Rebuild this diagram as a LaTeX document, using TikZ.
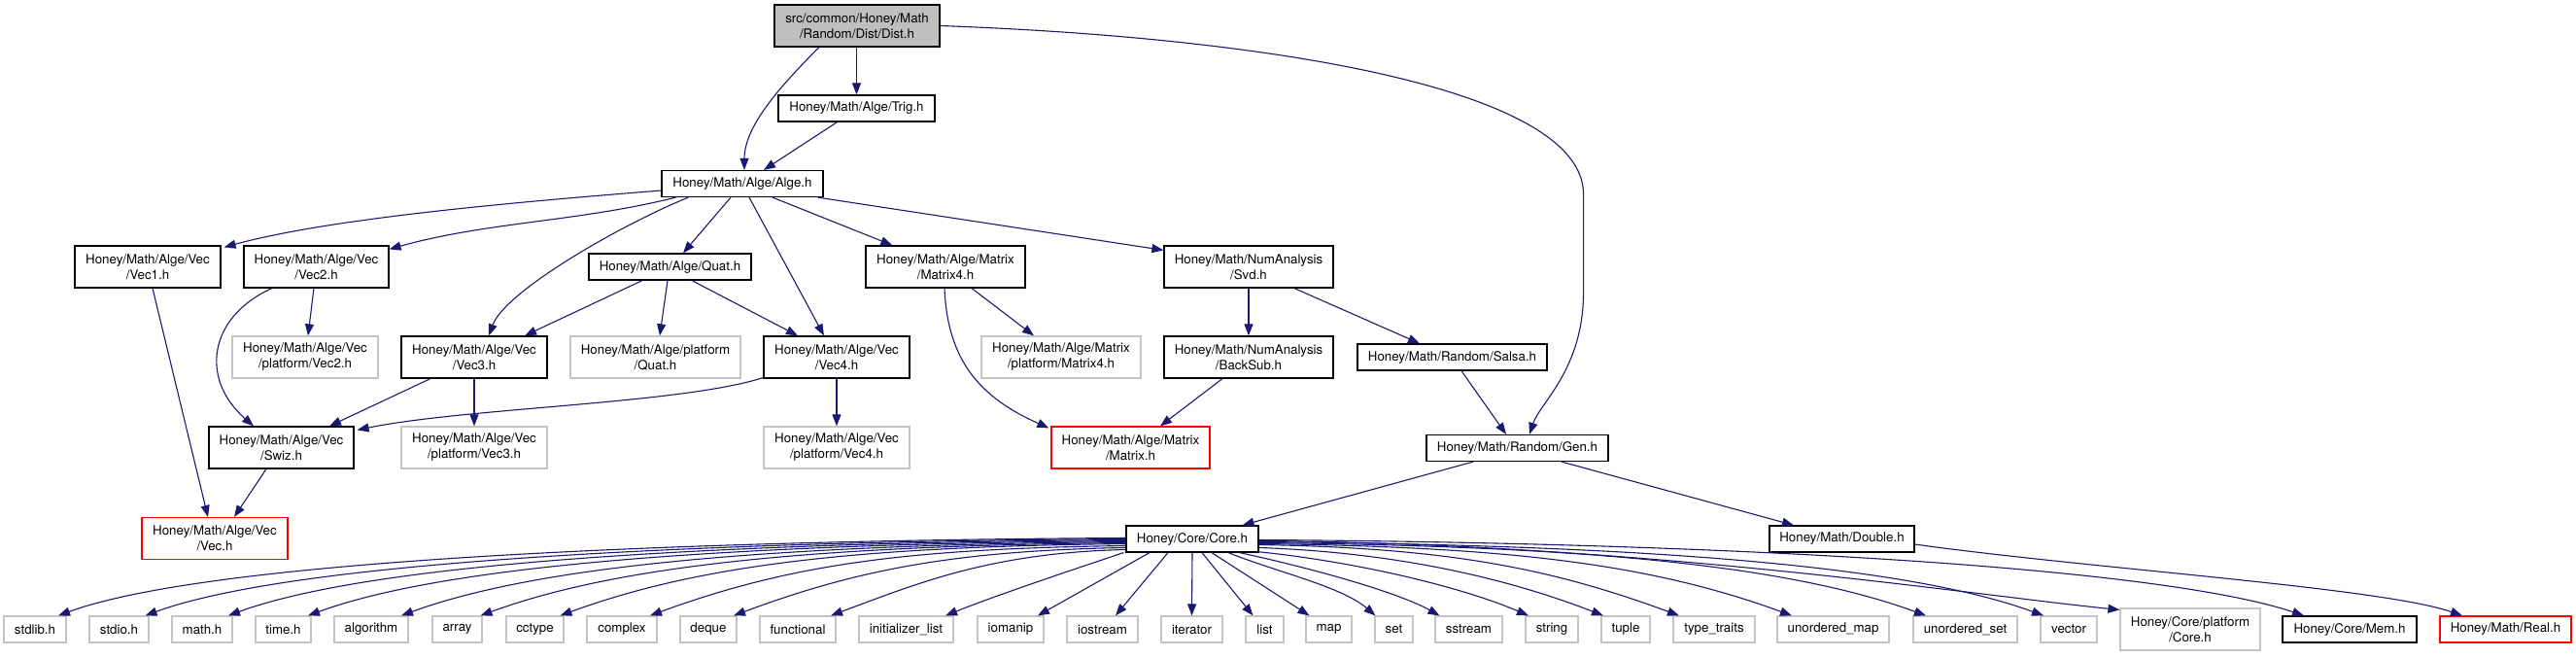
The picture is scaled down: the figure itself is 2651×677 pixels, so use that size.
\documentclass[tikz,border=0pt]{standalone}
\usepackage{fontspec}
\setmainfont{TeX Gyre Heros}
\usetikzlibrary{arrows.meta}
\definecolor{edgeblue}{HTML}{191970}
\definecolor{grayline}{HTML}{C4C4C4}
\definecolor{rootfill}{HTML}{BFBFBF}
\begin{document}
\begin{tikzpicture}[x=1pt,y=-1pt,
  box/.style={rectangle, draw=black, line width=1.2pt, inner sep=0pt, align=center, font=\fontsize{13.3}{16}\selectfont, text=black},
  doc/.style={box},
  ext/.style={box, draw=grayline},
  trunc/.style={box, draw=red},
  root/.style={box, fill=rootfill},
  one/.style={minimum height=27pt},
  two/.style={minimum height=43pt},
  dep/.style={draw=edgeblue, line width=1.1pt, -{Triangle[length=12pt,width=9pt]}},
]
\useasboundingbox (0,0) rectangle (2651,677);

% upper nodes
\node[root,two,minimum width=170pt] (dist) at (882,26.5) {src/common/Honey/Math\\/Random/Dist/Dist.h};
\node[doc,one,minimum width=161pt] (trig) at (881.5,111.5) {Honey/Math/Alge/Trig.h};
\node[doc,one,minimum width=166pt] (alge) at (764,189) {Honey/Math/Alge/Alge.h};
\node[doc,two,minimum width=150pt] (vec1) at (152,274.5) {Honey/Math/Alge/Vec\\/Vec1.h};
\node[doc,two,minimum width=149pt] (vec2) at (325.5,274.5) {Honey/Math/Alge/Vec\\/Vec2.h};
\node[doc,one,minimum width=167pt] (quat) at (689.5,274.5) {Honey/Math/Alge/Quat.h};
\node[doc,two,minimum width=164pt] (mat4) at (973,274.5) {Honey/Math/Alge/Matrix\\/Matrix4.h};
\node[doc,two,minimum width=174pt] (svd) at (1285,274.5) {Honey/Math/NumAnalysis\\/Svd.h};
\node[ext,two,minimum width=150pt] (pvec2) at (314,367.5) {Honey/Math/Alge/Vec\\/platform/Vec2.h};
\node[doc,two,minimum width=150pt] (vec3) at (488,367.5) {Honey/Math/Alge/Vec\\/Vec3.h};
\node[ext,two,minimum width=175pt] (pquat) at (674.5,367.5) {Honey/Math/Alge/platform\\/Quat.h};
\node[doc,two,minimum width=150pt] (vec4) at (861,367.5) {Honey/Math/Alge/Vec\\/Vec4.h};
\node[ext,two,minimum width=164pt] (pmat4) at (1092,367.5) {Honey/Math/Alge/Matrix\\/platform/Matrix4.h};
\node[doc,two,minimum width=174pt] (backsub) at (1285,367.5) {Honey/Math/NumAnalysis\\/BackSub.h};
\node[doc,one,minimum width=195pt] (salsa) at (1494.5,367.5) {Honey/Math/Random/Salsa.h};
\node[doc,two,minimum width=149pt] (swiz) at (289.5,460.5) {Honey/Math/Alge/Vec\\/Swiz.h};
\node[ext,two,minimum width=150pt] (pvec3) at (488,460.5) {Honey/Math/Alge/Vec\\/platform/Vec3.h};
\node[ext,two,minimum width=150pt] (pvec4) at (861,460.5) {Honey/Math/Alge/Vec\\/platform/Vec4.h};
\node[trunc,two,minimum width=163pt] (matrix) at (1163.5,460.5) {Honey/Math/Alge/Matrix\\/Matrix.h};
\node[doc,one,minimum width=187pt] (gen) at (1561.5,461) {Honey/Math/Random/Gen.h};
\node[trunc,two,minimum width=150pt] (vec) at (221,554) {Honey/Math/Alge/Vec\\/Vec.h};
\node[doc,one,minimum width=136pt] (core) at (1227,554.5) {Honey/Core/Core.h};
\node[doc,one,minimum width=149pt] (dbl) at (1895.5,554.5) {Honey/Math/Double.h};

% bottom row
\node[ext,one,minimum width=64pt] (stdlib) at (36,647.5) {stdlib.h};
\node[ext,one,minimum width=61pt] (stdio) at (122.5,647.5) {stdio.h};
\node[ext,one,minimum width=62pt] (mathh) at (208,647.5) {math.h};
\node[ext,one,minimum width=57pt] (timeh) at (291.5,647.5) {time.h};
\node[ext,one,minimum width=76pt] (algorithm) at (382,647.5) {algorithm};
\node[ext,one,minimum width=51pt] (array) at (470.5,647.5) {array};
\node[ext,one,minimum width=59pt] (cctype) at (550.5,647.5) {cctype};
\node[ext,one,minimum width=72pt] (complex) at (640,647.5) {complex};
\node[ext,one,minimum width=58pt] (deque) at (729,647.5) {deque};
\node[ext,one,minimum width=78pt] (functional) at (821,647.5) {functional};
\node[ext,one,minimum width=97pt] (initlist) at (932.5,647.5) {initializer\_list};
\node[ext,one,minimum width=68pt] (iomanip) at (1040,647.5) {iomanip};
\node[ext,one,minimum width=73pt] (iostream) at (1134.5,647.5) {iostream};
\node[ext,one,minimum width=63pt] (iterator) at (1226.5,647.5) {iterator};
\node[ext,one,minimum width=39pt] (listh) at (1301.5,647.5) {list};
\node[ext,one,minimum width=47pt] (maph) at (1367.5,647.5) {map};
\node[ext,one,minimum width=39pt] (seth) at (1434.5,647.5) {set};
\node[ext,one,minimum width=69pt] (sstream) at (1511.5,647.5) {sstream};
\node[ext,one,minimum width=54pt] (stringh) at (1597,647.5) {string};
\node[ext,one,minimum width=50pt] (tuple) at (1673,647.5) {tuple};
\node[ext,one,minimum width=84pt] (typetraits) at (1764,647.5) {type\_traits};
\node[ext,one,minimum width=115pt] (umap) at (1886.5,647.5) {unordered\_map};
\node[ext,one,minimum width=107pt] (uset) at (2022.5,647.5) {unordered\_set};
\node[ext,one,minimum width=58pt] (vectorh) at (2129,647.5) {vector};
\node[ext,two,minimum width=144pt] (pcore) at (2254,647.5) {Honey/Core/platform\\/Core.h};
\node[doc,one,minimum width=138pt] (mem) at (2418,647.5) {Honey/Core/Mem.h};
\node[trunc,one,minimum width=135pt] (real) at (2578.5,647.5) {Honey/Math/Real.h};

% upper edges
\draw[dep] ([xshift=-39pt]dist.south) .. controls +(-40,40) and +(0,-45) .. ([xshift=2pt]alge.north);
\draw[dep] (trig.north |- dist.south) -- (trig.north);
\draw[dep] ([xshift=-20pt]trig.south) -- ([xshift=22pt]alge.north);
\draw[dep] (dist.east) .. controls +(333,12) and +(0,-110) .. ++(662,173.5) -- ++(0,100) .. controls +(0,80) and +(11,-33) .. ([xshift=12.5pt]gen.north);
\draw[dep] ([yshift=-7pt]alge.west) .. controls +(-150,12) and +(110,-30) .. ([xshift=3pt,yshift=-2pt]vec1.north east);
\draw[dep] ([xshift=15pt]alge.south west) .. controls +(-100,25) and +(100,-28) .. ([yshift=-4pt]vec2.north east);
\draw[dep] ([xshift=28pt]alge.south west) .. controls +(-69,28) and +(17,-46) .. ([xshift=15pt]vec3.north);
\draw[dep] ([xshift=-12pt]alge.south) -- ([xshift=13.5pt]quat.north);
\draw[dep] ([xshift=7pt]alge.south) -- ([xshift=-13pt]vec4.north);
\draw[dep] ([xshift=31pt]alge.south) -- ([xshift=28pt]mat4.north west);
\draw[dep] ([xshift=-6pt]alge.south east) -- ([yshift=-5pt]svd.north west);
\draw[dep] ([xshift=5pt]vec1.south) -- ([xshift=-7pt]vec.north);
\draw[dep] ([xshift=-45.5pt]vec2.south) .. controls +(-65,29) and +(-56,-49) .. ([xshift=-28.5pt]swiz.north);
\draw[dep] ([xshift=-2.5pt]vec2.south) -- ([xshift=3pt]pvec2.north);
\draw[dep] ([xshift=-28.5pt]quat.south) -- ([xshift=52pt]vec3.north);
\draw[dep] ([xshift=-2.5pt]quat.south) -- ([xshift=4.5pt]pquat.north);
\draw[dep] ([xshift=22.5pt]quat.south) -- ([xshift=-40pt]vec4.north);
\draw[dep] ([xshift=-45pt]vec3.south) -- ([xshift=49.5pt]swiz.north);
\draw[dep] (vec3.south) -- (pvec3.north);
\draw[dep] ([yshift=1pt]vec4.south west) .. controls +(-85,27) and +(113,-23) .. ([xshift=3pt,yshift=-4pt]swiz.north east);
\draw[dep] (vec4.south) -- (pvec4.north);
\draw[dep] ([xshift=-15.5pt]swiz.south) -- ([xshift=20pt]vec.north);
\draw[dep] ([xshift=-1pt]mat4.south) .. controls +(3,75) and +(-70,-31) .. ([xshift=-2pt,yshift=-2pt]matrix.north west);
\draw[dep] ([xshift=27pt]mat4.south) -- ([xshift=-28pt]pmat4.north);
\draw[dep] (svd.south) -- (backsub.north);
\draw[dep] ([xshift=47pt]svd.south) -- ([xshift=-33.5pt]salsa.north);
\draw[dep] ([xshift=-27pt]backsub.south) -- ([xshift=30.5pt]matrix.north);
\draw[dep] ([xshift=9.5pt]salsa.south) -- ([xshift=-11.5pt]gen.north);
\draw[dep] ([xshift=-45.5pt]gen.south) -- ([xshift=51.5pt]core.north);
\draw[dep] ([xshift=45.5pt]gen.south) -- ([xshift=-49.5pt]dbl.north);
\draw[dep] ([yshift=-5.5pt]dbl.east) .. controls +(179,25) and +(-84,-29) .. ([xshift=-44.5pt]real.north);

% Core.h fan
\draw[dep] ([yshift=1pt]core.west) .. controls +(-495,3) and +(150,-55) .. ([xshift=24pt]stdlib.north);
\draw[dep] (core.west) .. controls +(-454,3) and +(150,-55) .. ([xshift=27pt]stdio.north);
\draw[dep] ([yshift=-1pt]core.west) .. controls +(-416,3) and +(150,-55) .. ([xshift=27pt]mathh.north);
\draw[dep] ([yshift=-2pt]core.west) .. controls +(-379,3) and +(150,-55) .. ([xshift=25.5pt]timeh.north);
\draw[dep] ([yshift=-3pt]core.west) .. controls +(-336,3) and +(150,-55) .. ([xshift=31pt]algorithm.north);
\draw[dep] ([yshift=-4pt]core.west) .. controls +(-299,3) and +(150,-55) .. ([xshift=24pt]array.north);
\draw[dep] ([yshift=-5pt]core.west) .. controls +(-262,3) and +(150,-55) .. ([xshift=26pt]cctype.north);
\draw[dep] ([yshift=-7pt]core.west) .. controls +(-220,3) and +(147,-54) .. ([xshift=29pt]complex.north);
\draw[dep] ([yshift=-9pt]core.west) .. controls +(-182,3) and +(121,-45) .. ([xshift=26pt]deque.north);
\draw[dep] ([yshift=-11pt]core.west) .. controls +(-137,3) and +(91,-34) .. ([xshift=34pt]functional.north);
\draw[dep] ([xshift=-2pt]core.south west) .. controls +(-60,20) and +(50,-20) .. ([xshift=40.5pt]initlist.north);
\draw[dep] ([xshift=-44pt]core.south) -- ([xshift=28pt]iomanip.north);
\draw[dep] ([xshift=-25pt]core.south) -- ([xshift=13.5pt]iostream.north);
\draw[dep] (core.south) -- (iterator.north);
\draw[dep] ([xshift=10pt]core.south) -- ([xshift=-12pt]listh.north);
\draw[dep] ([xshift=20pt]core.south) -- ([xshift=-20pt]maph.north);
\draw[dep] ([xshift=37pt]core.south) .. controls +(50,20) and +(-35,-30) .. ([xshift=-19pt]seth.north);
\draw[dep] ([xshift=48.5pt]core.south) .. controls +(70,15) and +(-45,-25) .. ([xshift=-30pt]sstream.north);
\draw[dep] ([xshift=-2pt,yshift=1pt]core.south east) .. controls +(100,10) and +(-70,-30) .. ([xshift=-24pt]stringh.north);
\draw[dep] ([yshift=-9pt]core.east) .. controls +(150,5) and +(-90,-35) .. ([xshift=-23pt]tuple.north);
\draw[dep] ([yshift=-6pt]core.east) .. controls +(195,3) and +(-130,-48) .. ([xshift=-36pt]typetraits.north);
\draw[dep] ([yshift=-5pt]core.east) .. controls +(248,3) and +(-150,-55) .. ([xshift=-42.5pt]umap.north);
\draw[dep] ([yshift=-4pt]core.east) .. controls +(310,3) and +(-150,-55) .. ([xshift=-40.5pt]uset.north);
\draw[dep] ([yshift=-3pt]core.east) .. controls +(364,3) and +(-150,-55) .. ([xshift=-26pt]vectorh.north);
\draw[dep] ([yshift=-2pt]core.east) .. controls +(400,3) and +(-150,-15) .. ([yshift=-2pt]pcore.north west);
\draw[dep] ([yshift=-1pt]core.east) .. controls +(480,3) and +(-150,-50) .. ([xshift=-47pt]mem.north);
\end{tikzpicture}
\end{document}
